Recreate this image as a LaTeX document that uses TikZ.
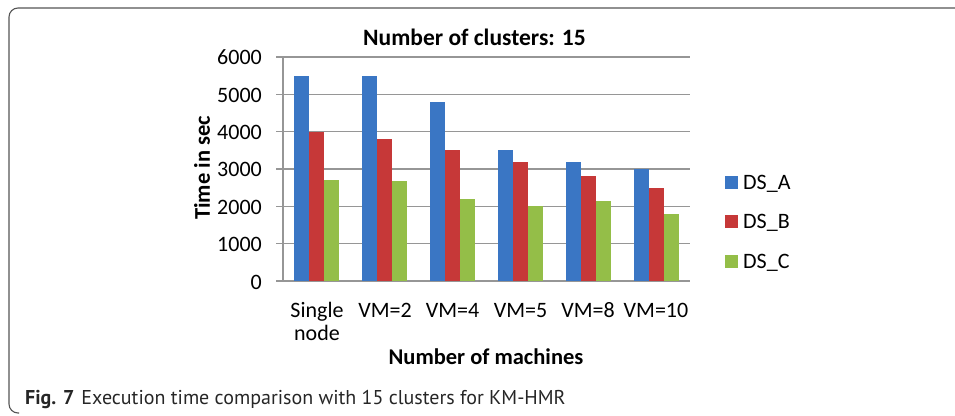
\documentclass[tikz,border=0pt]{standalone}
\usepackage{fontspec}
\setmainfont{Carlito}
\newfontfamily\capfont{PT Sans}
\definecolor{dsA}{RGB}{58,118,196}
\definecolor{dsB}{RGB}{198,56,56}
\definecolor{dsC}{RGB}{148,190,72}
\definecolor{gridc}{RGB}{150,150,150}
\definecolor{framec}{RGB}{85,85,85}
\begin{document}
\begin{tikzpicture}[x=1bp,y=-1bp,
  chartfont/.style={font=\fontsize{22bp}{26bp}\selectfont},
  boldfont/.style={font=\fontsize{22.5bp}{26bp}\selectfont\bfseries},
  gridline/.style={draw=gridc,line width=1.4bp},
  barA/.style={fill=dsA,draw=none},
  barB/.style={fill=dsB,draw=none},
  barC/.style={fill=dsC,draw=none},
  tick/.style={chartfont,anchor=base east,inner sep=0pt},
  xlab/.style={chartfont,anchor=base,inner sep=0pt},
  legtext/.style={chartfont,anchor=base west,inner sep=0pt},
  legbox/.style={minimum width=13bp,minimum height=13bp,inner sep=0pt,draw=none}]
\useasboundingbox (0,0) rectangle (955,415);
% frame
\draw[framec,line width=1.1bp,rounded corners=9bp] (960,8) -- (9,8) -- (9,413) -- (19,413);
% gridlines
\foreach \v in {0,1000,...,6000}{
  \draw[gridline] (276,{281-\v*0.037333}) -- (690,{281-\v*0.037333});
  \node[tick] (t\v) at (262,{281-\v*0.037333+8}) {\v};
}
\draw[gridline] (283,57) -- (283,281);
% bars
\def\gw{67.83}
\foreach \a/\b/\c [count=\i from 0] in {5500/4000/2700,5480/3800/2680,4800/3500/2200,3500/3200/2000,3200/2800/2130,3000/2500/1800}{
  \pgfmathsetmacro{\cx}{283+\gw*\i+\gw/2}
  \fill[barA] ({\cx-22.5},281) rectangle ({\cx-7.5},{281-\a*0.037333});
  \fill[barB] ({\cx-7.5},281) rectangle ({\cx+7.5},{281-\b*0.037333});
  \fill[barC] ({\cx+7.5},281) rectangle ({\cx+22.5},{281-\c*0.037333});
}
% x labels
\node[xlab] (x1) at (317,317) {Single};
\node[xlab] (x1b) at (317,340) {node};
\node[xlab] (x2) at (385,317) {VM=2};
\node[xlab] (x3) at (452.5,317) {VM=4};
\node[xlab] (x4) at (520.5,317) {VM=5};
\node[xlab] (x5) at (588,317) {VM=8};
\node[xlab] (x6) at (656,317) {VM=10};
% titles
\node[font=\fontsize{23.5bp}{28bp}\selectfont\bfseries,anchor=base,inner sep=0pt] (title) at (474.5,45) {Number of clusters: 15};
\node[boldfont,anchor=base,inner sep=0pt] (xtitle) at (486,364) {Number of machines};
\node[boldfont,rotate=90,inner sep=0pt] (ytitle) at (202,168) {Time in sec};
% legend
\node[legbox,fill=dsA] (lA) at (731,182) {};
\node[legtext] (tA) at (743,189) {DS\_A};
\node[legbox,fill=dsB] (lB) at (731,221.5) {};
\node[legtext] (tB) at (743,228.5) {DS\_B};
\node[legbox,fill=dsC] (lC) at (731,261) {};
\node[legtext] (tC) at (743,268) {DS\_C};
% caption
\node[anchor=base west,inner sep=0pt,font=\capfont\fontsize{20bp}{24bp}\selectfont,text=black!85] (cap) at (25,404) {\textbf{Fig. 7}\hspace{7bp}Execution time comparison with 15 clusters for KM-HMR};
\end{tikzpicture}
\end{document}
